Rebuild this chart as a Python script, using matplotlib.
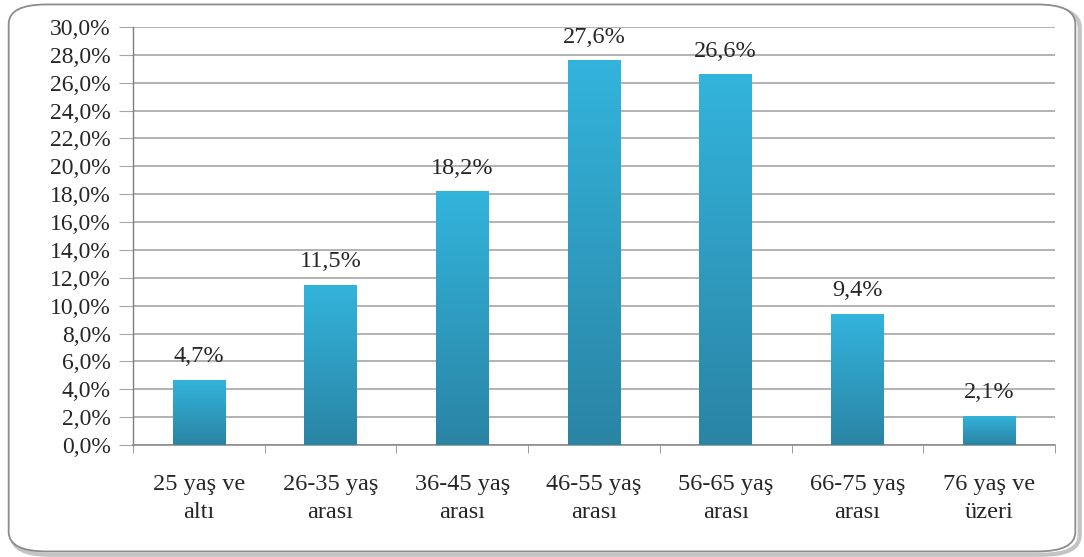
import numpy as np
import matplotlib
matplotlib.use("Agg")
import matplotlib.pyplot as plt
from matplotlib.patches import FancyBboxPatch
from matplotlib.colors import LinearSegmentedColormap

categories = ["25 yaş ve\naltı", "26-35 yaş\narası", "36-45 yaş\narası", "46-55 yaş\narası",
              "56-65 yaş\narası", "66-75 yaş\narası", "76 yaş ve\nüzeri"]
values = [4.7, 11.5, 18.2, 27.6, 26.6, 9.4, 2.1]
yticks = np.arange(0, 30.1, 2.0)

plt.rcParams["font.family"] = ["Liberation Serif", "DejaVu Serif"]

fig = plt.figure(figsize=(10.84, 5.57), dpi=100)
fig.patch.set_facecolor("white")

# rounded outer frame with a soft shadow
shadow = FancyBboxPatch((0.011, 0.004), 0.985, 0.982, boxstyle="round,pad=0,rounding_size=0.035",
                        transform=fig.transFigure, facecolor="none", edgecolor="#c4c4c4",
                        linewidth=3.0, zorder=0)
frame = FancyBboxPatch((0.008, 0.010), 0.984, 0.982, boxstyle="round,pad=0,rounding_size=0.035",
                       transform=fig.transFigure, facecolor="white", edgecolor="#8c8c8c",
                       linewidth=1.3, zorder=1)
fig.patches.extend([shadow, frame])

ax = fig.add_axes([133 / 1084, 1 - 445 / 557, (1055 - 133) / 1084, (445 - 27) / 557])
ax.set_facecolor("none")
ax.set_zorder(2)

x = np.arange(len(categories))
bars = ax.bar(x, values, width=0.4, color="#2fa6cc", zorder=3)

cmap = LinearSegmentedColormap.from_list("barfade", ["#2a84a4", "#33b4dc"])
grad = np.linspace(0, 1, 256).reshape(-1, 1)
for b in bars:
    x0, y0 = b.get_x(), b.get_y()
    w, h = b.get_width(), b.get_height()
    im = ax.imshow(grad, cmap=cmap, origin="lower", aspect="auto",
                   extent=(x0, x0 + w, y0, y0 + h), zorder=4)
    im.set_clip_path(b)

for xi, v in zip(x, values):
    ax.text(xi, v + 0.9, f"{v:.1f}%".replace(".", ","), ha="center", va="bottom",
            fontsize=17.5, color="#262626", zorder=5)

ax.set_xlim(-0.5, len(categories) - 0.5)
ax.set_ylim(0, 30)
ax.set_yticks(yticks)
ax.set_yticklabels([f"{t:.1f}%".replace(".", ",") for t in yticks], fontsize=17, color="#262626")
ax.yaxis.grid(True, color="#a6a6a6", linewidth=1.2, zorder=0)
ax.set_axisbelow(True)

ax.set_xticks(x)
ax.set_xticklabels(categories, fontsize=17.5, color="#262626", linespacing=1.4)
ax.set_xticks(np.arange(-0.5, len(categories)), minor=True)
ax.tick_params(axis="x", which="major", length=0, pad=21)
ax.tick_params(axis="x", which="minor", length=6, color="#8c8c8c", direction="out")
ax.tick_params(axis="y", length=10, color="#a6a6a6", pad=6)

for s in ["top", "right"]:
    ax.spines[s].set_visible(False)
ax.spines["left"].set_color("#7f7f7f")
ax.spines["bottom"].set_color("#8c8c8c")
ax.spines["left"].set_linewidth(1.0)
ax.spines["bottom"].set_linewidth(1.2)

fig.savefig("out.png", dpi=100, facecolor="white")
